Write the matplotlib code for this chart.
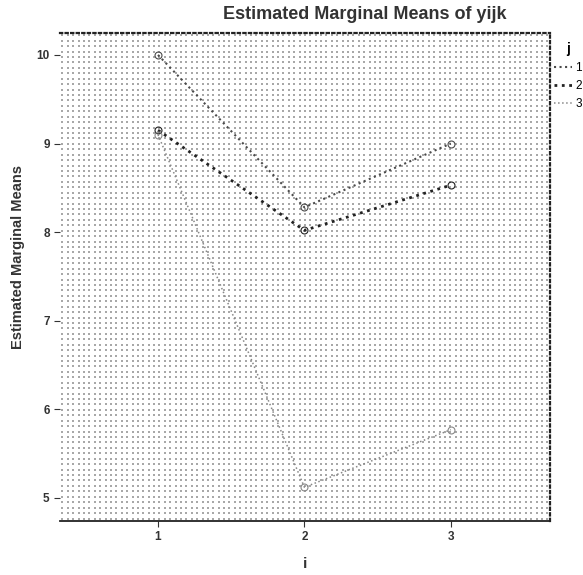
import numpy as np
import matplotlib
matplotlib.use("Agg")
import matplotlib.pyplot as plt

plt.rcParams['font.family'] = ['Liberation Sans', 'DejaVu Sans']

# --- données ---
i_levels = [1, 2, 3]
j_labels = ["1", "2", "3"]
means_j1 = [10.0, 8.28, 9.0]
means_j2 = [9.15, 8.02, 8.53]
means_j3 = [9.1, 5.12, 5.77]
y_ticks = [5, 6, 7, 8, 9, 10]

fig = plt.figure(figsize=(5.83, 5.75), dpi=100)
ax = fig.add_axes([0.103, 0.094, 0.84, 0.849])

# fond pointillé façon SPSS (trame de points)
gx, gy = np.meshgrid(np.linspace(0.005, 0.995, 91), np.linspace(0.005, 0.995, 90))
ax.scatter(gx.ravel(), gy.ravel(), s=1.1, color='#a8a8a8', marker='s',
           linewidths=0, transform=ax.transAxes, zorder=0)

series = [means_j1, means_j2, means_j3]
styles = [dict(color='#4a4a4a', lw=1.5),
          dict(color='#222222', lw=2.0),
          dict(color='#888888', lw=1.1)]
for vals, lab, st in zip(series, j_labels, styles):
    ax.plot(i_levels, vals, linestyle=':', marker='o', markersize=5,
            fillstyle='none', markeredgewidth=0.8, label=lab, zorder=3, **st)

ax.set_xlim(0.331, 3.676)
ax.set_ylim(4.74, 10.25)
ax.set_xticks(i_levels)
ax.set_yticks(y_ticks)
ax.tick_params(axis='both', labelsize=8.5, length=4, width=0.8, color='#333333')
for t in ax.get_xticklabels() + ax.get_yticklabels():
    t.set_fontweight('bold')
    t.set_color('#333333')

ax.spines['left'].set_visible(False)
ax.spines['bottom'].set_color('#222222')
ax.spines['bottom'].set_linewidth(1.3)
for s in ['top', 'right']:
    ax.spines[s].set_linestyle((0, (1, 1.5)))
    ax.spines[s].set_linewidth(1.6)
    ax.spines[s].set_color('#222222')

ax.set_xlabel("i", fontsize=11, fontweight='bold', color='#333333', labelpad=10)
ax.set_ylabel("Estimated Marginal Means", fontsize=10.5, fontweight='bold',
              color='#333333', labelpad=10)
ax.yaxis.set_label_coords(-0.072, 0.54)
fig.text(0.626, 0.974, "Estimated Marginal Means of yijk", ha='center', va='center',
         fontsize=13, fontweight='bold', color='#333333')

leg = ax.legend(title="j", loc='upper left', bbox_to_anchor=(1.0, 0.99),
                frameon=False, fontsize=8.5, title_fontsize=10,
                handlelength=1.5, handletextpad=0.25, labelspacing=0.5,
                borderaxespad=0.2, borderpad=0.2)
leg.get_title().set_fontweight('bold')
for h in leg.legend_handles:
    h.set_marker('')

fig.savefig("out.png", dpi=100)
